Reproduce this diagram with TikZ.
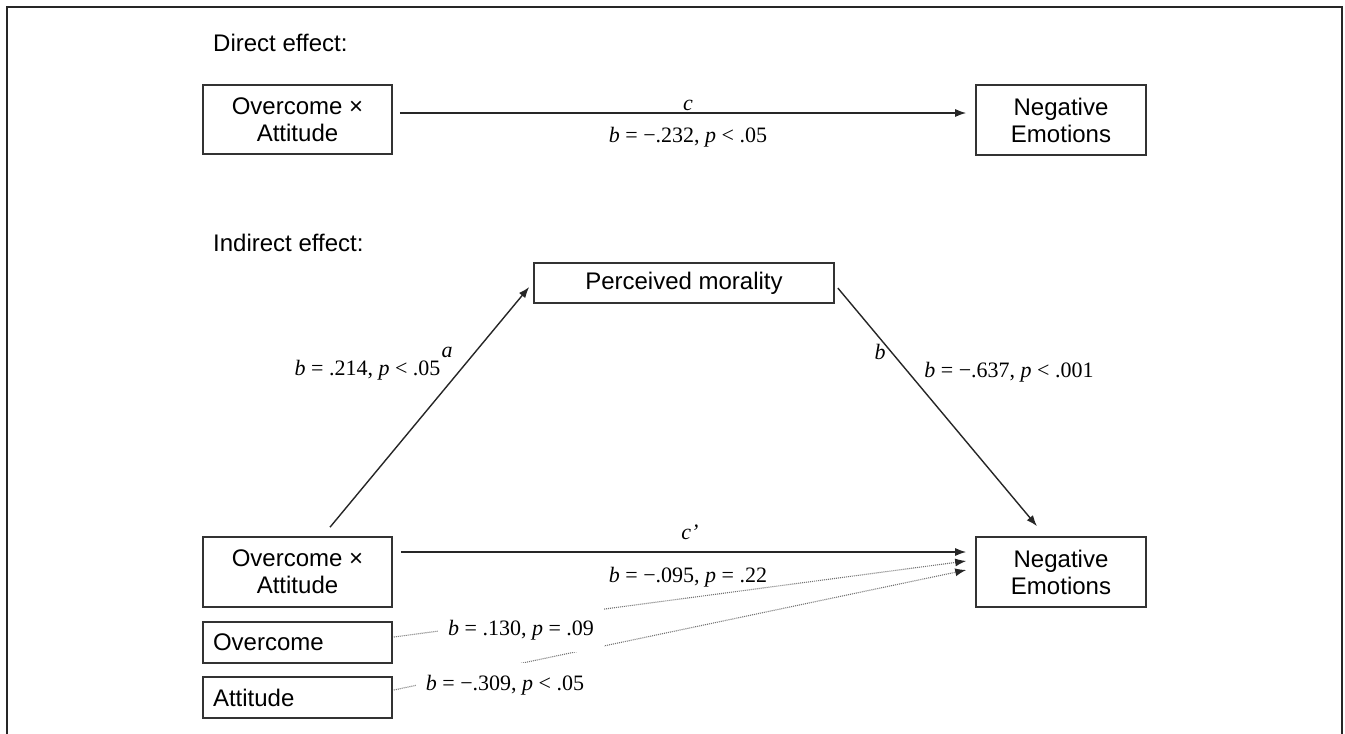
\documentclass[tikz,border=0pt]{standalone}
\usepackage{fontspec}
\setmainfont{Liberation Serif}
\newfontfamily\arialf{Liberation Sans}
\usetikzlibrary{arrows.meta,calc}
\begin{document}
\begin{tikzpicture}[x=1pt,y=-1pt,
  box/.style={draw=black!80, line width=1.6pt, inner sep=0pt, fill=white,
    font=\arialf\fontsize{24}{27}\selectfont, align=center},
  leftbox/.style={box, text width=169pt, align=left},
  lab/.style={font=\fontsize{22}{24}\selectfont, inner sep=0pt},
  coverlab/.style={lab, fill=white, inner xsep=10pt, minimum height=44pt},
  head/.style={font=\arialf\fontsize{24}{27}\selectfont, anchor=west, inner sep=0pt},
  arr/.style={draw=black!85, line width=1.4pt, -{Latex[length=11pt,width=8pt]}},
  dotline/.style={draw=black!55, line width=1.1pt, dash pattern=on 1pt off 1pt,
    -{Latex[length=11pt,width=8pt,color=black!85]}}
]
\useasboundingbox (0,0) rectangle (1345,734);
\draw[line width=1.8pt, black!85] (7,734) -- (7,7) -- (1342,7) -- (1342,734);

% Direct effect
\node[head] (h1) at (213,43) {Direct effect:};
\node[box, minimum width=189pt, minimum height=69pt] (d1) at (297.5,119.5) {Overcome ×\\Attitude};
\node[box, minimum width=170pt, minimum height=70pt] (d2) at (1061,120) {Negative\\Emotions};
\draw[arr] ($(d1.east)+(7,-6.5)$) -- ($(d2.west)+(-9,-7)$);
\node[lab] (lc) at (688,105) {\textit{c}};
\node[lab] (lcb) at (688,137) {\textit{b} = −.232, \textit{p} < .05};

% Indirect effect
\node[head] (h2) at (213,243) {Indirect effect:};
\node[box, minimum width=300pt, minimum height=40pt] (pm) at (684,283) {Perceived morality};
\node[box, minimum width=189pt, minimum height=70pt] (i1) at (297.5,572) {Overcome ×\\Attitude};
\node[box, minimum width=170pt, minimum height=70pt] (ne) at (1061,572) {Negative\\Emotions};
\node[leftbox, minimum width=189pt, minimum height=41pt] (ov) at (297.5,642.5) {Overcome};
\node[leftbox, minimum width=189pt, minimum height=41pt] (at) at (297.5,697.5) {Attitude};

\draw[arr] ($(i1.north)+(32.5,-9)$) -- ($(pm.west)+(-4,4)$);
\draw[arr] ($(pm.east)+(3,5)$) -- ($(ne.north)+(-24,-10)$);
\draw[arr] ($(i1.east)+(8,-20)$) -- ($(ne.west)+(-9,-20)$);
\draw[dotline] ($(ov.east)+(1,-5.5)$) -- ($(ne.west)+(-9,-11)$);
\draw[dotline] ($(at.east)+(1,-7.5)$) -- ($(ne.west)+(-9,-2)$);

\node[lab] (la) at (447,352) {\textit{a}};
\node[lab] (lab1) at (367.5,370) {\textit{b} = .214, \textit{p} < .05};
\node[lab] (lb) at (880,352) {\textit{b}};
\node[lab] (lbb) at (1009,372) {\textit{b} = −.637, \textit{p} < .001};
\node[lab] (lcp) at (690,532) {\textit{c’}};
\node[lab] (lcpb) at (688,577) {\textit{b} = −.095, \textit{p} = .22};
\node[coverlab] (lov) at (521,630) {\textit{b} = .130, \textit{p} = .09};
\node[coverlab] (lat) at (505,685) {\textit{b} = −.309, \textit{p} < .05};
\end{tikzpicture}
\end{document}
